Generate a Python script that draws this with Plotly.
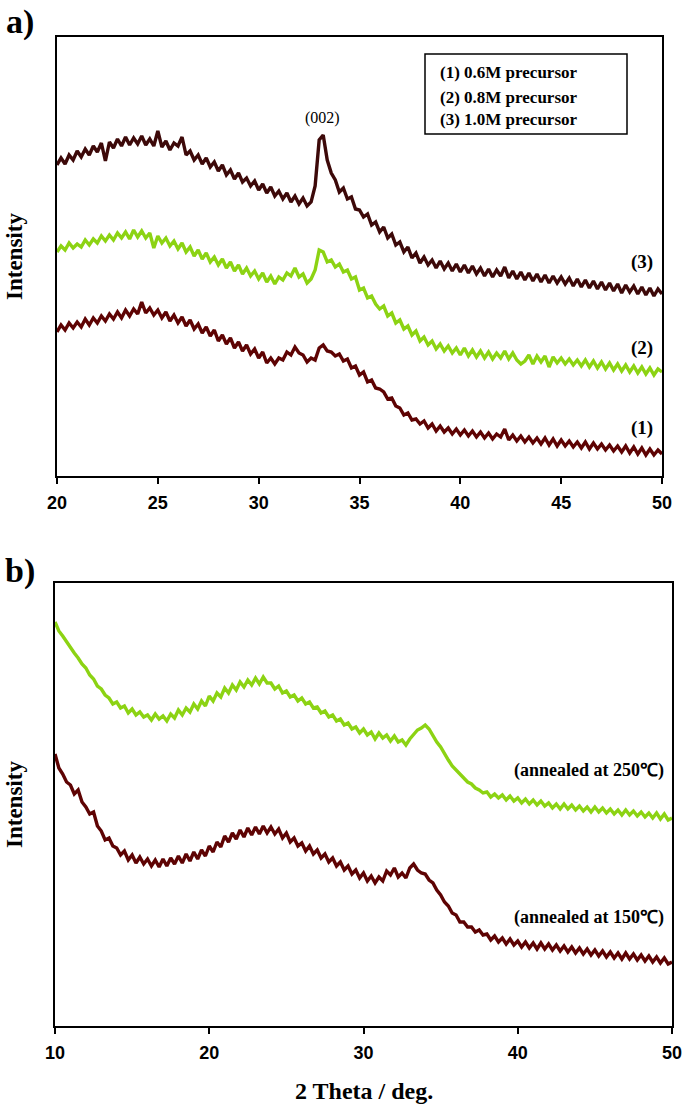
import plotly.graph_objects as go

# ---------------- data (arbitrary intensity units) ----------------
# Panel a: 2theta 20..50, step 0.2
theta_a_start, theta_a_step = 20.0, 0.2
int_a_1M0 = [  # (3) 1.0M precursor
    311,318,312,321,316,325,319,327,321,330,
    324,333,315,334,328,337,330,339,331,338,
    332,340,331,337,330,345,329,335,326,333,
    330,339,321,325,316,321,312,318,309,314,
    305,311,301,306,297,303,294,298,290,295,
    286,292,283,289,280,285,277,283,274,280,
    272,278,270,274,290,336,341,316,303,296,
    284,288,277,279,267,266,259,262,251,254,
    244,249,238,242,231,234,224,229,218,223,
    213,219,211,216,208,215,207,213,205,212,
    204,211,203,210,202,208,200,207,199,206,
    200,209,198,205,197,204,196,203,195,202,
    194,201,193,200,193,199,192,198,190,197,
    189,196,188,195,187,194,186,193,185,192,
    183,191,184,190,182,189,181,188,180,187,
    182]
int_a_0M8 = [  # (2) 0.8M precursor
    224,230,226,233,228,232,229,236,231,237,
    233,240,235,241,236,243,238,244,237,246,
    239,245,238,243,228,240,233,238,230,235,
    227,233,224,229,220,226,217,223,214,219,
    211,217,208,214,205,211,202,208,200,205,
    197,203,194,200,192,199,196,203,200,208,
    199,202,193,197,206,226,224,214,216,209,
    212,204,206,197,199,186,188,178,180,172,
    167,170,160,163,153,156,147,150,141,145,
    135,139,131,135,127,132,125,130,123,128,
    121,128,120,126,119,125,118,124,117,123,
    118,125,117,123,116,112,115,121,112,120,
    114,120,109,119,113,118,112,117,111,116,
    110,116,109,115,108,114,107,113,106,112,
    105,111,104,110,103,109,102,108,101,107,
    104]
int_a_0M6 = [  # (1) 0.6M precursor
    144,151,146,153,148,154,149,157,151,158,
    153,160,155,162,157,164,158,166,160,167,
    162,174,163,168,161,166,158,164,155,161,
    153,159,150,156,147,152,143,149,140,146,
    135,141,132,138,128,134,125,131,122,127,
    118,124,113,118,112,118,116,124,121,129,
    123,121,114,118,116,128,131,125,124,120,
    122,115,117,108,110,101,104,94,96,88,
    87,84,77,78,70,68,61,63,56,57,
    52,55,48,52,45,50,44,48,42,47,
    41,46,40,45,39,44,38,43,37,42,
    39,47,36,41,35,40,34,39,33,38,
    32,38,31,37,30,36,30,35,29,34,
    28,34,27,33,27,32,26,31,25,30,
    24,30,23,29,22,28,21,27,21,26,
    22]

# Panel b: 2theta 10..50, step 0.25
theta_b_start, theta_b_step = 10.0, 0.25
int_b_250 = [
    404,395,390,384,379,373,368,362,
    358,351,347,340,337,331,328,322,
    324,318,320,313,317,311,314,309,
    311,306,312,307,310,305,312,308,
    316,311,318,314,322,317,325,320,
    330,325,333,329,338,333,341,336,
    344,339,346,341,348,342,349,343,
    343,337,340,333,335,329,331,325,
    328,322,324,318,319,313,315,309,
    311,305,307,301,303,297,299,293,
    297,291,294,287,293,288,291,285,
    290,284,286,281,287,292,296,298,
    301,297,290,284,279,272,266,260,
    256,251,248,244,242,238,236,233,
    234,229,232,228,231,226,230,225,
    228,223,227,222,226,221,225,220,
    223,218,222,217,222,217,221,216,
    220,215,219,214,219,214,218,213,
    217,212,216,211,216,211,215,210,
    214,209,213,208,213,207,212,206,
    208]
int_b_150 = [
    272,258,252,244,241,232,236,224,
    219,212,214,200,195,186,188,180,
    178,171,175,166,171,163,169,162,
    167,160,166,159,167,160,168,162,
    170,163,172,165,174,167,176,170,
    180,174,184,179,190,184,193,187,
    196,189,198,191,199,192,200,193,
    199,192,197,188,193,184,188,180,
    183,175,180,172,176,168,172,164,
    168,160,164,156,160,152,156,148,
    153,145,150,143,149,145,155,151,
    158,149,153,148,158,162,156,153,
    152,146,143,136,131,124,120,113,
    111,104,104,99,99,94,96,91,
    92,86,90,84,88,82,87,81,
    85,79,84,78,83,77,83,77,
    82,76,81,75,80,74,79,73,
    78,72,77,71,76,70,75,69,
    74,68,73,67,73,67,72,66,
    71,65,70,64,69,63,68,62,
    64]

theta_a = [round(theta_a_start + i * theta_a_step, 2) for i in range(len(int_a_1M0))]
theta_b = [round(theta_b_start + i * theta_b_step, 2) for i in range(len(int_b_250))]

legend_lines = ["(1) 0.6M precursor", "(2) 0.8M precursor", "(3) 1.0M precursor"]
ticks_a = [20, 25, 30, 35, 40, 45, 50]
ticks_b = [10, 20, 30, 40, 50]

# ---------------- style ----------------
W, H = 685, 1105
C_DARK = "#3d0909"
C_MAROON = "#5e0303"
C_GREEN = "#8cd313"
SERIF = "Liberation Serif"
SANS = "Liberation Sans"


def px(x):
    return x / W


def py(y):
    return 1 - y / H


fig = go.Figure()
lw = 3.4
fig.add_trace(go.Scatter(x=theta_a, y=int_a_1M0, mode="lines", line=dict(color=C_DARK, width=lw),
                         xaxis="x", yaxis="y", showlegend=False))
fig.add_trace(go.Scatter(x=theta_a, y=int_a_0M8, mode="lines", line=dict(color=C_GREEN, width=lw),
                         xaxis="x", yaxis="y", showlegend=False))
fig.add_trace(go.Scatter(x=theta_a, y=int_a_0M6, mode="lines", line=dict(color=C_MAROON, width=lw),
                         xaxis="x", yaxis="y", showlegend=False))
fig.add_trace(go.Scatter(x=theta_b, y=int_b_250, mode="lines", line=dict(color=C_GREEN, width=lw),
                         xaxis="x2", yaxis="y2", showlegend=False))
fig.add_trace(go.Scatter(x=theta_b, y=int_b_150, mode="lines", line=dict(color=C_MAROON, width=lw),
                         xaxis="x2", yaxis="y2", showlegend=False))

axis_common = dict(showline=True, linecolor="black", linewidth=1.5, mirror=True,
                   showgrid=False, zeroline=False, automargin=False)
xfont = dict(family=SANS, size=18, color="black", weight="bold")

fig.update_layout(
    width=W, height=H, margin=dict(l=0, r=0, t=0, b=0, pad=0, autoexpand=False),
    paper_bgcolor="white", plot_bgcolor="white", showlegend=False,
    xaxis=dict(domain=[px(57), px(662)], range=[20, 50], tickvals=ticks_a, ticks="outside",
               ticklen=6, tickwidth=1.5, tickcolor="black", tickfont=xfont, anchor="y",
               ticklabelstandoff=4, **axis_common),
    yaxis=dict(domain=[py(476), py(37)], range=[0, 439], showticklabels=False, ticks="",
               anchor="x", **axis_common),
    xaxis2=dict(domain=[px(55), px(672)], range=[10, 50], tickvals=ticks_b, ticks="outside",
                ticklen=6, tickwidth=1.5, tickcolor="black", tickfont=xfont, anchor="y2",
                ticklabelstandoff=4, **axis_common),
    yaxis2=dict(domain=[py(1026), py(583)], range=[0, 443], showticklabels=False, ticks="",
                anchor="x2", **axis_common),
)

# legend-like box in panel a
fig.add_shape(type="rect", xref="paper", yref="paper", x0=px(425), x1=px(627), y0=py(134), y1=py(54),
              line=dict(color="black", width=1.5), fillcolor="white")

ann = []
for txt, yy in zip(legend_lines, [73, 97, 119]):
    ann.append(dict(x=px(438), y=py(yy), text=txt, xanchor="left", yanchor="middle",
                    font=dict(family=SERIF, size=17, color="black", weight="bold")))

ann += [
    dict(x=px(20), y=py(22), text="a)", font=dict(family=SERIF, size=34, color="black", weight="bold")),
    dict(x=px(20), y=py(571), text="b)", font=dict(family=SERIF, size=34, color="black", weight="bold")),
    dict(x=px(14), y=py(257), text="Intensity", textangle=-90,
         font=dict(family=SERIF, size=23, color="black", weight="bold")),
    dict(x=px(14), y=py(805), text="Intensity", textangle=-90,
         font=dict(family=SERIF, size=23, color="black", weight="bold")),
    dict(x=px(364), y=py(1091), text="2 Theta / deg.",
         font=dict(family=SERIF, size=24, color="black", weight="bold")),
    dict(x=px(322), y=py(118), text="(002)", font=dict(family=SERIF, size=16, color="black")),
    dict(x=px(642), y=py(262), text="(3)", font=dict(family=SERIF, size=19, color="black", weight="bold")),
    dict(x=px(642), y=py(348), text="(2)", font=dict(family=SERIF, size=19, color="black", weight="bold")),
    dict(x=px(642), y=py(428), text="(1)", font=dict(family=SERIF, size=19, color="black", weight="bold")),
    dict(x=px(666), y=py(770), text="(annealed at 250℃)", xanchor="right",
         font=dict(family=SERIF, size=18, color="black", weight="bold")),
    dict(x=px(666), y=py(917), text="(annealed at 150℃)", xanchor="right",
         font=dict(family=SERIF, size=18, color="black", weight="bold")),
]
for a in ann:
    a.setdefault("xanchor", "center")
    a.setdefault("yanchor", "middle")
    fig.add_annotation(xref="paper", yref="paper", showarrow=False, **a)

fig.write_html(
    "out.html",
    config={"displayModeBar": False},
    post_script="document.body.style.margin='0';document.body.style.padding='0';"
                "document.documentElement.style.overflow='hidden';",
)
